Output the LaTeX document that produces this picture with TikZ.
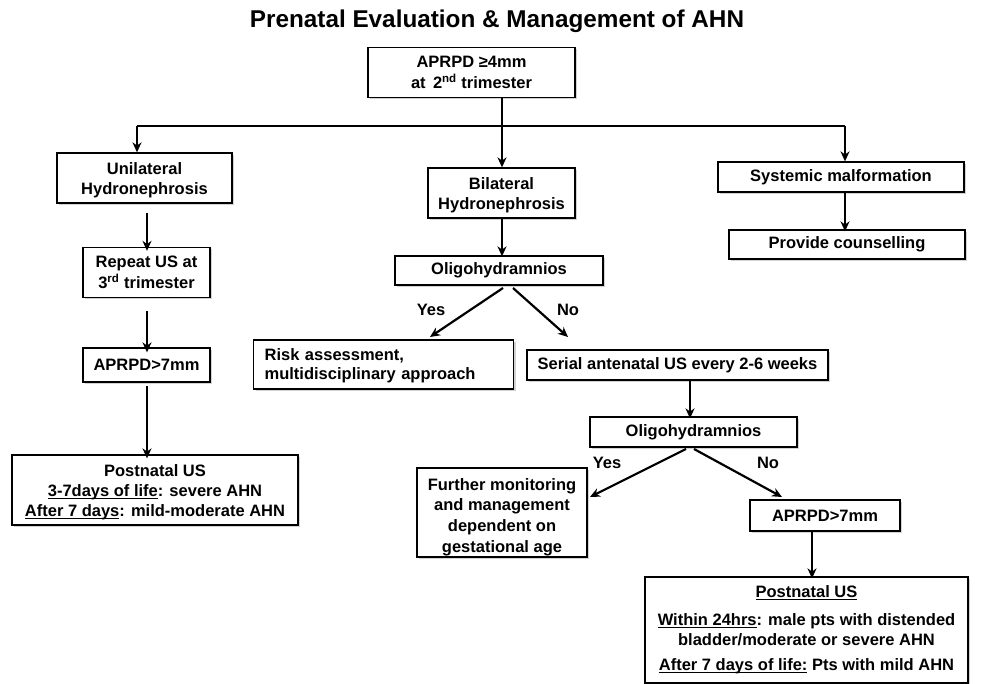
\documentclass[tikz,border=0pt]{standalone}
\usepackage{fontspec}
\setmainfont{Liberation Sans}
\usetikzlibrary{arrows.meta,shadows}
\newcommand\myul[1]{\setbox0\hbox{#1}\rlap{\rule[-2.6pt]{\wd0}{1.1pt}}\box0\relax}
\newcommand\lowered[2]{\setbox1\hbox{#2}\raisebox{-#1}[\ht1][\dp1]{\copy1}}
\newcommand\cl[1]{\begin{tabular}{@{}c@{}}#1\end{tabular}}
\begin{document}
\begin{tikzpicture}[x=1pt,y=-1pt,
  box/.style={draw=black, line width=1.3pt, fill=white, inner sep=2pt, align=center,
    font=\bfseries\fontsize{16.5}{20.5}\selectfont,
    drop shadow={shadow xshift=2pt, shadow yshift=-2pt, opacity=0.35, fill=gray}},
  arr/.style={line width=2.2pt, -{Stealth[length=10pt,width=9pt]}},
  ln/.style={line width=2.2pt},
  lab/.style={font=\bfseries\fontsize{16.5}{20}\selectfont}]
\useasboundingbox[fill=white] (0,0) rectangle (982,684);
% title
\node[font=\bfseries\fontsize{24.3}{28}\selectfont] (title) at (497,21) {Prenatal Evaluation \& Management of AHN};
% boxes
\node[box, minimum width=207pt, minimum height=50pt] (top) at (471.5,72.5) {\lowered{1.5pt}{\cl{APRPD ≥4mm\\at \,2\textsuperscript{nd} trimester}}};
\node[box, minimum width=175pt, minimum height=50pt] (uni) at (144.5,178) {\lowered{2.5pt}{\cl{Unilateral\\Hydronephrosis}}};
\node[box, minimum width=127pt, minimum height=50pt] (rep) at (146.5,272.5) {\lowered{1.5pt}{\cl{Repeat US at\\3\textsuperscript{rd} trimester}}};
\node[box, minimum width=127pt, minimum height=34pt] (ap1) at (146.5,365) {APRPD>7mm};
\node[box, minimum width=286pt, minimum height=70pt, font=\bfseries\fontsize{16.5}{20}\selectfont] (post1) at (155,490) {\lowered{2pt}{\cl{Postnatal US\\\myul{3-7days of life}: severe AHN\\\myul{After 7 days}: mild-moderate AHN}}};
\node[box, minimum width=147pt, minimum height=50pt] (bil) at (501.5,193) {\lowered{2.5pt}{\cl{Bilateral\\Hydronephrosis}}};
\node[box, minimum width=208pt, minimum height=29pt] (oli1) at (499,270.5) {Oligohydramnios};
\node[box, minimum width=260pt, minimum height=49pt, anchor=west, inner xsep=11pt, text width=238pt, align=left, font=\bfseries\fontsize{16.5}{19}\selectfont] (risk) at (253,364.5) {\lowered{2pt}{\begin{tabular}{@{}l@{}}Risk assessment,\\multidisciplinary approach\end{tabular}}};
\node[box, minimum width=301pt, minimum height=30pt] (ser) at (677.5,365) {Serial antenatal US every 2-6 weeks};
\node[box, minimum width=207pt, minimum height=30pt] (oli2) at (693.5,432) {Oligohydramnios};
\node[box, minimum width=170pt, minimum height=89pt, font=\bfseries\fontsize{16.5}{20.7}\selectfont] (fur) at (502,512.5) {\lowered{4.5pt}{\cl{Further monitoring\\and management\\dependent on\\gestational age}}};
\node[box, minimum width=150pt, minimum height=31pt] (ap2) at (825,515.5) {APRPD>7mm};
\node[box, minimum width=323pt, minimum height=106pt] (post2) at (806.5,630) {\cl{\myul{Postnatal US}\\[7pt]\myul{Within 24hrs}: male pts with distended\\bladder/moderate or severe AHN\\[4.5pt]\myul{After 7 days of life:} Pts with mild AHN}};
\node[box, minimum width=246pt, minimum height=30pt] (sys) at (841,177) {Systemic malformation};
\node[box, minimum width=236pt, minimum height=29pt] (cou) at (847,244.5) {Provide counselling};
% junctions
\coordinate (jC) at (502,126);
\coordinate (jL) at (137,126);
\coordinate (jR) at (845,126);
\coordinate (oy1) at (503,288);
\coordinate (on1) at (513,288);
\coordinate (oy2) at (686,449);
\coordinate (on2) at (694,449);
% connectors
\draw[ln] (top.south -| jC) -- (jC);
\draw[ln] (jL) -- (jR);
\draw[arr] (jC) -- (jC |- bil.north);
\draw[arr] (jL) -- (jL |- uni.north);
\draw[arr] (jR) -- (jR |- sys.north);
\draw[arr] ([yshift=-9pt]uni.south -| 147,0) -- ([yshift=-4pt]rep.north -| 147,0);
\draw[arr] ([yshift=-13pt]rep.south -| 147,0) -- ([yshift=-5pt]ap1.north -| 147,0);
\draw[arr] ([yshift=-3pt]ap1.south -| 147,0) -- ([yshift=-4pt]post1.north -| 147,0);
\draw[arr] (bil.south -| 502,0) -- ([yshift=-1pt]oli1.north -| 502,0);
\draw[arr] (oy1) -- (430,337);
\draw[arr] (on1) -- (568,337);
\node[lab] (yes1) at (431,310) {Yes};
\node[lab] (no1) at (568,310) {No};
\draw[arr] (ser.south -| 690,0) -- ([yshift=-2pt]oli2.north -| 690,0);
\draw[arr] (oy2) -- (590,497);
\draw[arr] (on2) -- (782,497);
\node[lab] (yes2) at (607,463) {Yes};
\node[lab] (no2) at (768,463) {No};
\draw[arr] (sys.south -| 845,0) -- ([yshift=-2pt]cou.north -| 845,0);
\draw[arr] (ap2.south -| 812,0) -- ([yshift=-2pt]post2.north -| 812,0);
\end{tikzpicture}
\end{document}
